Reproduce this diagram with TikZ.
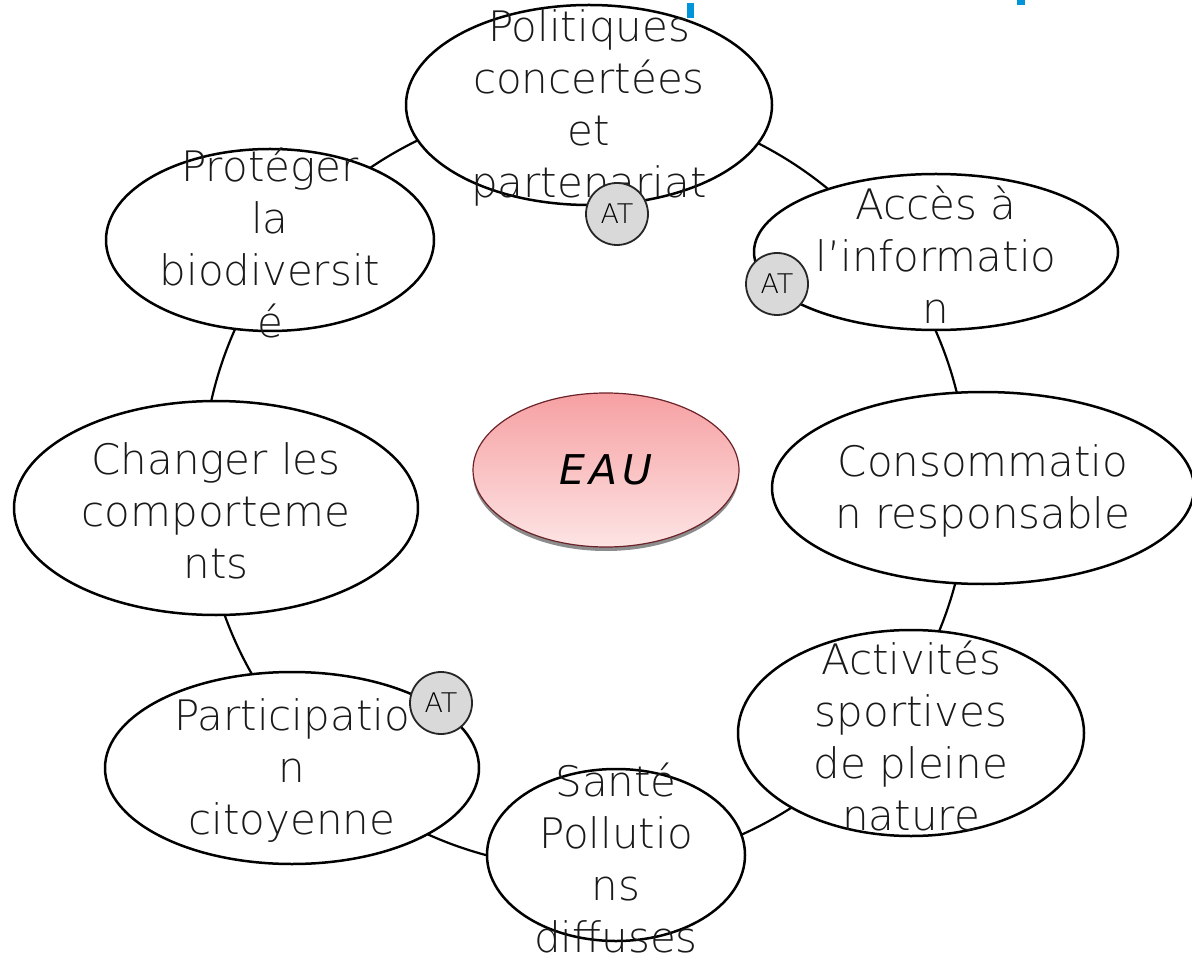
\documentclass[tikz,border=0pt]{standalone}
\usepackage{fontspec}
\newfontfamily\thinfont{DejaVu Sans ExtraLight}
\newfontfamily\eaufont[LetterSpace=12]{DejaVu Sans}
\usetikzlibrary{shapes.geometric,shadows}

\definecolor{atgray}{HTML}{D9D9D9}
\definecolor{eautop}{HTML}{F6A0A2}
\definecolor{eaubot}{HTML}{FDE4E4}
\definecolor{eauline}{HTML}{6B2228}
\definecolor{markblue}{HTML}{0095D9}

\tikzstyle{ring}=[draw=black,line width=1.1pt]
\tikzstyle{bubble}=[ellipse,draw=black,fill=white,line width=1.25pt,inner sep=0pt]
\tikzstyle{label}=[align=center,yshift=-1.5pt,font=\thinfont\fontsize{21}{26}\selectfont,text=black!90]
\tikzstyle{atdot}=[circle,draw=black!85,fill=atgray,line width=0.9pt,minimum size=31pt,inner sep=0pt,font=\thinfont\fontsize{13.5}{16}\selectfont]

\begin{document}
\begin{tikzpicture}[x=0.5pt,y=-0.5pt]
   \useasboundingbox (0,0) rectangle (1192,956);

   % ring behind the themes
   \draw[ring] (585,485) circle (191.5pt);

   % themes
   \node[bubble,minimum width=183pt,minimum height=100pt] (pol) at (589,105) {};
   \node[bubble,minimum width=182pt,minimum height=78pt] (acc) at (936,252) {};
   \node[bubble,minimum width=211pt,minimum height=96pt] (con) at (983,488) {};
   \node[bubble,minimum width=173pt,minimum height=103pt] (act) at (911,733) {};
   \node[bubble,minimum width=129pt,minimum height=86pt] (san) at (616,855) {};
   \node[bubble,minimum width=187pt,minimum height=96pt] (par) at (292,768) {};
   \node[bubble,minimum width=202pt,minimum height=107pt] (cha) at (216,508) {};
   \node[bubble,minimum width=164pt,minimum height=91pt] (pro) at (270,240) {};

   \node[label] (polt) at (pol) {Politiques\\concertées\\et\\partenariat};
   \node[label] (acct) at (acc) {Accès à\\l’informatio\\n};
   \node[label] (cont) at (con) {Consommatio\\n responsable};
   \node[label] (actt) at (act) {Activités\\sportives\\de pleine\\nature};
   \node[label] (sant) at (san) {Santé\\Pollutio\\ns\\diffuses};
   \node[label] (part) at (par) {Participatio\\n\\citoyenne};
   \node[label] (chat) at (cha) {Changer les\\comporteme\\nts};
   \node[label] (prot) at (pro) {Protéger\\la\\biodiversit\\é};

   % AT markers
   \node[atdot] (at1) at (617,214) {AT};
   \node[atdot] (at2) at (777,284) {AT};
   \node[atdot] (at3) at (441,703) {AT};

   % centre
   \node[ellipse,draw=eauline,line width=0.6pt,top color=eautop,bottom color=eaubot,
         minimum width=133pt,minimum height=77pt,
         drop shadow={shadow xshift=0pt,shadow yshift=-2pt,fill=black!45,opacity=1},
         font=\eaufont\itshape\fontsize{20.5}{24}\selectfont] (eau) at (606,470) {EAU};

   % cut-off marks at the top edge
   \fill[markblue] (687,3) rectangle (694,18);
   \fill[markblue] (1017,0) rectangle (1025,5);

\end{tikzpicture}
\end{document}
